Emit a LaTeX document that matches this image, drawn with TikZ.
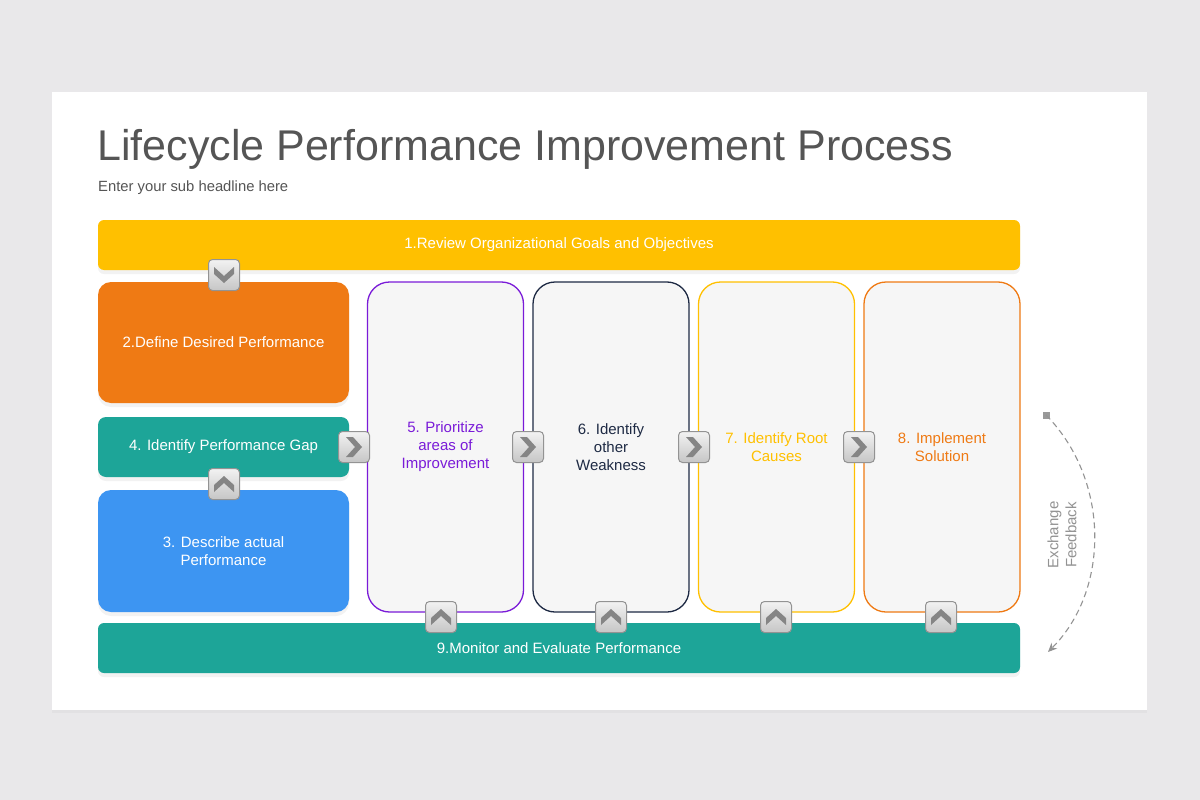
\documentclass[tikz,border=0pt]{standalone}
\usepackage{fontspec}
\setmainfont{Liberation Sans}
\usetikzlibrary{positioning}
\usetikzlibrary{arrows.meta}
\usetikzlibrary{shadows}
\definecolor{pageBg}{HTML}{E9E8EA}
\definecolor{titleGray}{HTML}{555555}
\definecolor{cYellow}{HTML}{FFC000}
\definecolor{cOrange}{HTML}{EF7A14}
\definecolor{cTeal}{HTML}{1DA598}
\definecolor{cBlue}{HTML}{3D95F2}
\definecolor{cPurple}{HTML}{7A1BD8}
\definecolor{cNavy}{HTML}{1E2A44}
\definecolor{paleFill}{HTML}{F6F6F6}
\definecolor{chevGray}{HTML}{858585}
\tikzset{
    soft/.style = {drop shadow={opacity=0.10, shadow xshift=0pt, shadow yshift=-4pt}},
    bar/.style = {rectangle, rounded corners=6pt, minimum width=922pt, minimum height=50pt, text=white, font=\fontsize{15}{18}\selectfont, soft},
    sidebox/.style = {rectangle, rounded corners=13pt, minimum width=251pt, text=white, align=center, font=\fontsize{15}{18}\selectfont, soft},
    tallbox/.style = {rectangle, rounded corners=22pt, minimum width=156pt, minimum height=330pt, line width=1.3pt, fill=paleFill, align=center, font=\fontsize{15}{18}\selectfont},
    btn/.style = {rectangle, rounded corners=4pt, minimum size=31pt, draw=gray!85, line width=1pt, top color=gray!10, bottom color=gray!45},
    chev/.style = {fill=chevGray},
    feedback/.style = {draw=gray!85, dash pattern=on 6pt off 4pt, line width=1.1pt, -{Stealth[length=9pt,width=8pt]}},
}
\newcommand{\Chev}[2]{\fill[chev, shift={(#1.center)}, rotate=#2] (-10,1) -- (0,-8) -- (10,1) -- (10,8) -- (0,-1) -- (-10,8) -- cycle;}

\begin{document}
\begin{tikzpicture}[x=1pt,y=-1pt]
\useasboundingbox (0,0) rectangle (1200,800);
\fill[pageBg] (0,0) rectangle (1200,800);
\fill[white, drop shadow={opacity=0.06, shadow xshift=0pt, shadow yshift=-3pt}] (52,92) rectangle (1147,710);
%
\node[anchor=base west, text=titleGray, font=\fontsize{43}{48}\selectfont, inner sep=0pt] at (97,160) (title) {Lifecycle Performance Improvement Process};
\node[anchor=base west, text=titleGray, font=\fontsize{14.8}{16}\selectfont, inner sep=0pt] at (98,191) (sub) {Enter your sub headline here};
%
\node[bar, fill=cYellow] at (559,245) (goals) {1.Review Organizational Goals and Objectives};
\node[bar, fill=cTeal] at (559,648) (monitor) {9.Monitor and Evaluate Performance};
\node[sidebox, fill=cOrange, minimum height=121pt] at (223.5,342.5) (desired) {2.Define Desired Performance};
\node[sidebox, fill=cTeal, rounded corners=8pt, minimum height=60pt] at (223.5,447) (gap) {4. Identify Performance Gap};
\node[sidebox, fill=cBlue, minimum height=122pt] at (223.5,551) (actual) {3. Describe actual\\Performance};
%
\node[tallbox, draw=cPurple, text=cPurple] at (445.5,447) (prior) {5. Prioritize\\areas of\\Improvement};
\node[tallbox, draw=cNavy, text=cNavy] at (611,447) (weak) {6. Identify\\other\\Weakness};
\node[tallbox, draw=cYellow, text=cYellow] at (776.5,447) (root) {7. Identify Root\\Causes};
\node[tallbox, draw=cOrange, text=cOrange] at (942,447) (solve) {8. Implement\\Solution};
%
\node[btn] at (224,275) (b1) {};
\node[btn] at (224,484) (b2) {};
\node[btn] at (354,447) (b3) {};
\node[btn] at (528,447) (b4) {};
\node[btn] at (694,447) (b5) {};
\node[btn] at (859,447) (b6) {};
\node[btn] at (441,617) (b7) {};
\node[btn] at (611,617) (b8) {};
\node[btn] at (776,617) (b9) {};
\node[btn] at (941,617) (b10) {};
\Chev{b1}{180}
\Chev{b2}{0}
\Chev{b3}{-90}
\Chev{b4}{-90}
\Chev{b5}{-90}
\Chev{b6}{-90}
\Chev{b7}{0}
\Chev{b8}{0}
\Chev{b9}{0}
\Chev{b10}{0}
%
\coordinate (fbStart) at (1046,415);
\coordinate (fbEnd) at (1048,652);
\fill[gray!80] ([shift={(-3.5,-3.5)}]fbStart) rectangle ([shift={(3.5,3.5)}]fbStart);
\draw[feedback] (fbStart) .. controls (1110,480) and (1110,590) .. (fbEnd);
\node[rotate=90, align=center, text=gray!85, font=\fontsize{15}{18}\selectfont] at (1062,535) (fbText) {Exchange\\Feedback};
\end{tikzpicture}
\end{document}
